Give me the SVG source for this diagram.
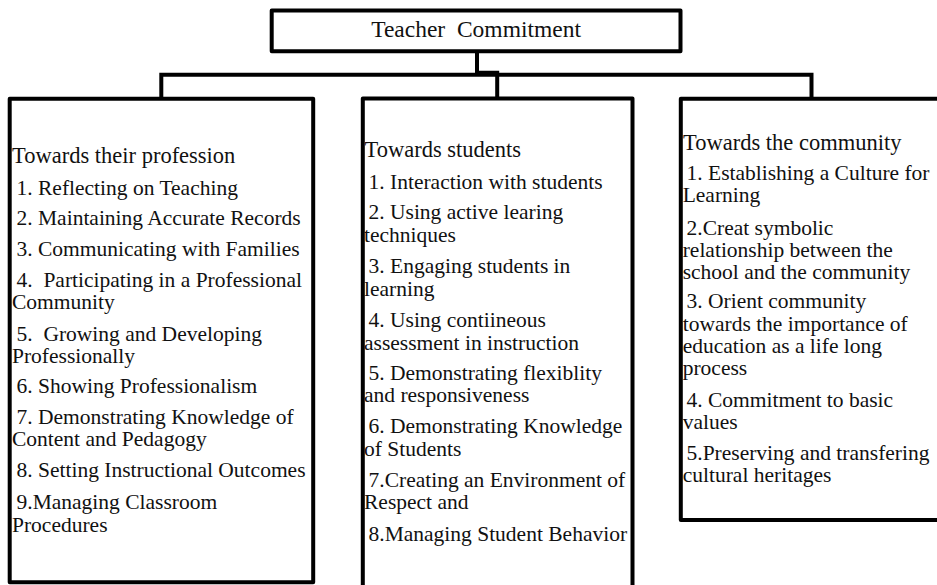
<svg xmlns="http://www.w3.org/2000/svg" width="937" height="585" viewBox="0 0 937 585" xml:space="preserve">
<style>
.box{fill:#fff;stroke:#000;stroke-width:4;stroke-linejoin:round}
.conn{fill:none;stroke:#000;stroke-width:4;stroke-linejoin:miter}
text{font-family:"Liberation Serif","Times New Roman",serif;fill:#111;white-space:pre}
.title{font-size:23.5px;text-anchor:middle}
.h{font-size:22.5px}
.i{font-size:21.5px}
</style>
<rect width="937" height="585" fill="#fff"/>
<g id="connectors">
<path class="conn" d="M161.3,98.8 V74.7 H811.5 V98.8"/>
<path class="conn" d="M477,51.3 V72.8 H497.2 V98.5"/>
</g>
<g id="node-root">
<rect class="box" x="271.7" y="10.5" width="408.8" height="40.8"/>
<text class="title" x="476.1" y="36.7">Teacher  Commitment</text>
</g>
<g id="node-profession">
<rect class="box" x="9.7" y="98.8" width="303.5" height="483.4"/>
<text class="h" x="12" y="162.7">Towards their profession</text>
<text class="i" x="16.5" y="195">1. Reflecting on Teaching</text>
<text class="i" x="16.5" y="225.3">2. Maintaining Accurate Records</text>
<text class="i" x="16.5" y="256">3. Communicating with Families</text>
<text class="i" x="16.5" y="287">4.  Participating in a Professional</text>
<text class="i" x="12" y="309">Community</text>
<text class="i" x="16.5" y="341">5.  Growing and Developing</text>
<text class="i" x="12" y="363.3">Professionally</text>
<text class="i" x="16.5" y="393.3">6. Showing Professionalism</text>
<text class="i" x="16.5" y="423.5">7. Demonstrating Knowledge of</text>
<text class="i" x="12" y="446.3">Content and Pedagogy</text>
<text class="i" x="16.5" y="477.3">8. Setting Instructional Outcomes</text>
<text class="i" x="16.5" y="509.3">9.Managing Classroom</text>
<text class="i" x="12" y="531.7">Procedures</text>
</g>
<g id="node-students">
<rect class="box" x="362.8" y="98.5" width="269.7" height="500"/>
<text class="h" x="364.5" y="156.7">Towards students</text>
<text class="i" x="368.5" y="189.3">1. Interaction with students</text>
<text class="i" x="368.5" y="219.3">2. Using active learing</text>
<text class="i" x="364" y="241.7">techniques</text>
<text class="i" x="368.5" y="273.3">3. Engaging students in</text>
<text class="i" x="364" y="295.6">learning</text>
<text class="i" x="368.5" y="327.3">4. Using contiineous</text>
<text class="i" x="364" y="349.6">assessment in instruction</text>
<text class="i" x="368.5" y="380">5. Demonstrating flexiblity</text>
<text class="i" x="364" y="402.2">and responsiveness</text>
<text class="i" x="368.5" y="433.3">6. Demonstrating Knowledge</text>
<text class="i" x="364" y="456">of Students</text>
<text class="i" x="368.5" y="486.7">7.Creating an Environment of</text>
<text class="i" x="364" y="509.3">Respect and</text>
<text class="i" x="368.5" y="540.7">8.Managing Student Behavior</text>
</g>
<g id="node-community">
<rect class="box" x="680.8" y="98.8" width="270" height="421.2"/>
<text class="h" x="683" y="150">Towards the community</text>
<text class="i" x="686.5" y="180">1. Establishing a Culture for</text>
<text class="i" x="682.7" y="202.2">Learning</text>
<text class="i" x="686.5" y="235">2.Creat symbolic</text>
<text class="i" x="682.7" y="257">relationship between the</text>
<text class="i" x="682.7" y="279">school and the community</text>
<text class="i" x="686.5" y="308.3">3. Orient community</text>
<text class="i" x="682.7" y="330.5">towards the importance of</text>
<text class="i" x="682.7" y="352.7">education as a life long</text>
<text class="i" x="682.7" y="374.9">process</text>
<text class="i" x="686.5" y="406.7">4. Commitment to basic</text>
<text class="i" x="682.7" y="429">values</text>
<text class="i" x="686.5" y="460">5.Preserving and transfering</text>
<text class="i" x="682.7" y="482.3">cultural heritages</text>
</g>
</svg>
